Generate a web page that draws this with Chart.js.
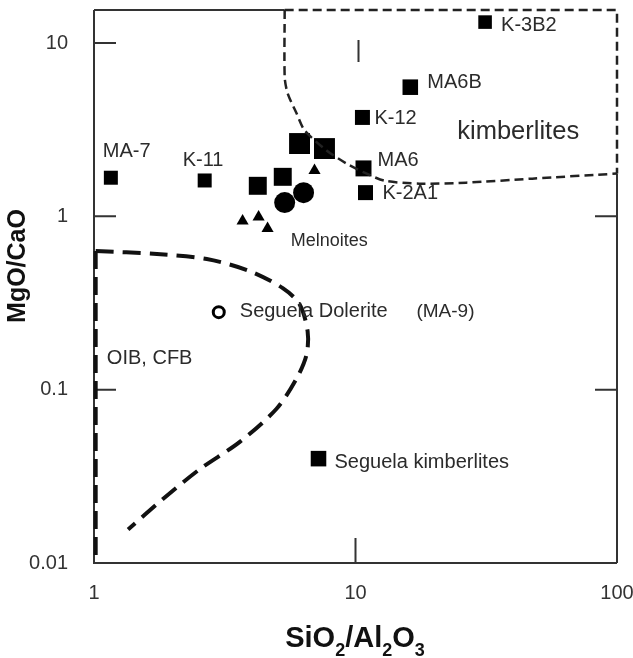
<!DOCTYPE html>
<html><head><meta charset="utf-8">
<script src="https://cdn.jsdelivr.net/npm/chart.js@4.4.0/dist/chart.umd.min.js"></script>
<style>html,body{margin:0;padding:0;background:#fff;}#wrap{width:633px;height:658px;}</style>
</head><body><div id="wrap"><canvas id="c" width="633" height="658"></canvas></div>
<script>
const FONT = "'Liberation Sans', Arial, Helvetica, sans-serif";
const INK = '#2b2b2b';

// ---- axes ----
const xTicks = [1, 10, 100];
const yTicks = [0.01, 0.1, 1, 10];
const xRange = [1, 100];
const yRange = [0.01, 15.5];
const xTitleParts = ['SiO', '2', '/Al', '2', 'O', '3'];   // odd entries are subscripts
const yTitle = 'MgO/CaO';

// ---- Seguela kimberlite samples (filled squares) ----
const kimbLabels = ['MA-7', 'K-11', '', '', '', '', 'MA6', 'K-2A1', 'K-12', 'MA6B', 'K-3B2'];
const kimbSiAl   = [1.16, 2.65, 4.23, 5.27, 6.11, 7.61, 10.73, 10.92, 10.63, 16.2, 31.3];
const kimbMgCa   = [1.67, 1.61, 1.50, 1.69, 2.63, 2.46, 1.89, 1.37, 3.72, 5.56, 13.2];

// ---- filled circles ----
const circSiAl = [5.36, 6.33];
const circMgCa = [1.20, 1.37];

// ---- melnoites (triangles) ----
const triSiAl = [3.70, 4.26, 4.61, 6.97];
const triMgCa = [0.94, 0.99, 0.85, 1.84];

// ---- Seguela dolerite MA-9 (open circle) ----
const dolSiAl = [3.0];
const dolMgCa = [0.28];

// ---- legend marker "Seguela kimberlites" ----
const legSiAl = [7.22];
const legMgCa = [0.040];

// ---- kimberlite field boundary ----
const kimbCurveSiAl = [5.36, 5.36, 5.50, 5.95, 6.39, 7.75, 9.24, 10.82, 12.9, 17.55, 26.5, 47.4, 100];
const kimbCurveMgCa = [15.5, 6.35, 5.13, 3.93, 3.13, 2.40, 2.015, 1.787, 1.605, 1.543, 1.564, 1.65, 1.764];
const kimbEdgeSiAl  = [5.36, 100, 100];
const kimbEdgeMgCa  = [15.5, 15.5, 1.764];

// ---- OIB, CFB field boundary ----
const oibCurveSiAl = [1.015, 1.74, 2.70, 3.94, 5.27, 6.11, 6.56, 6.50, 5.95, 4.99, 3.61, 2.54, 1.83, 1.35];
const oibCurveMgCa = [0.631, 0.606, 0.567, 0.483, 0.385, 0.311, 0.217, 0.1595, 0.1158, 0.0776, 0.04995, 0.0348, 0.0233, 0.0156];
const oibEdgeSiAl  = [1.015, 1.015];
const oibEdgeMgCa  = [0.631, 0.0102];

// ---- text notes ----
const noteTexts = ['kimberlites', 'Melnoites', 'Seguela Dolerite', '(MA-9)', 'OIB, CFB', 'Seguela kimberlites'];
const noteSiAl  = [24.5, 5.65, 3.61, 17.1, 1.12, 8.31];
const noteMgCa  = [3.05, 0.72, 0.283, 0.280, 0.151, 0.0382];

// ---- styles (kept apart from data) ----
const kimbRadius = [9.9, 9.9, 12.7, 12.7, 14.8, 14.8, 11.3, 10.6, 10.6, 11.0, 9.6];
const labelDx = [-8, -22, 0, 0, 0, 0, 14, 17, 12, 17, 16];
const labelDy = [-26, -20, 0, 0, 0, 0, -8, 1, 1, -5, 3];
const noteSize = [25.5, 18, 20, 19, 20, 20];

const zip = (xs, ys) => xs.map((x, i) => ({x, y: ys[i]}));
const noPad = s => { s.paddingLeft = 0; s.paddingRight = 0; s.paddingTop = 0; s.paddingBottom = 0; };

const annotPlugin = {
  id: 'annot',
  beforeDatasetsDraw(chart) {
    const {ctx, chartArea: a, scales: {x, y}} = chart;
    ctx.save();
    ctx.strokeStyle = '#333';
    ctx.lineWidth = 2;
    ctx.beginPath();
    ctx.moveTo(a.left, a.top); ctx.lineTo(a.left, a.bottom); ctx.lineTo(a.right, a.bottom);
    ctx.moveTo(a.right, y.getPixelForValue(kimbEdgeMgCa[2])); ctx.lineTo(a.right, a.bottom);
    ctx.moveTo(a.left, a.top); ctx.lineTo(x.getPixelForValue(kimbEdgeSiAl[0]), a.top);
    ctx.stroke();
    ctx.beginPath();
    [10, 1, 0.1].forEach(v => { const py = y.getPixelForValue(v); ctx.moveTo(a.left, py); ctx.lineTo(a.left + 22, py); });
    [1, 0.1].forEach(v => { const py = y.getPixelForValue(v); ctx.moveTo(a.right - 22, py); ctx.lineTo(a.right, py); });
    const px10 = x.getPixelForValue(10);
    ctx.moveTo(px10, a.bottom); ctx.lineTo(px10, a.bottom - 25);
    ctx.moveTo(px10 + 3, a.top + 30); ctx.lineTo(px10 + 3, a.top + 52);
    ctx.stroke();
    ctx.restore();
  },
  afterDatasetsDraw(chart) {
    const {ctx, scales: {x, y}} = chart;
    ctx.save();
    ctx.fillStyle = INK;
    ctx.textBaseline = 'middle';
    ctx.textAlign = 'left';
    ctx.font = `20px ${FONT}`;
    kimbLabels.forEach((t, i) => {
      if (!t) return;
      ctx.fillText(t, x.getPixelForValue(kimbSiAl[i]) + labelDx[i], y.getPixelForValue(kimbMgCa[i]) + labelDy[i]);
    });
    noteTexts.forEach((t, i) => {
      ctx.font = `${noteSize[i]}px ${FONT}`;
      ctx.fillText(t, x.getPixelForValue(noteSiAl[i]), y.getPixelForValue(noteMgCa[i]));
    });
    ctx.fillStyle = '#111';
    ctx.save();
    ctx.translate(18, 266);
    ctx.rotate(-Math.PI / 2);
    ctx.textAlign = 'center';
    ctx.font = `bold 25px ${FONT}`;
    ctx.fillText(yTitle, 0, 0);
    ctx.restore();
    const big = `bold 29px ${FONT}`, small = `bold 18px ${FONT}`;
    let total = 0;
    const w = xTitleParts.map((p, i) => { ctx.font = i % 2 ? small : big; const m = ctx.measureText(p).width; total += m; return m; });
    let cx = 355 - total / 2;
    ctx.textBaseline = 'alphabetic';
    xTitleParts.forEach((p, i) => {
      ctx.font = i % 2 ? small : big;
      ctx.fillText(p, cx, i % 2 ? 656 : 647);
      cx += w[i];
    });
    ctx.restore();
  }
};

new Chart(document.getElementById('c'), {
  type: 'scatter',
  data: {
    datasets: [
      {label: 'OIB edge', data: zip(oibEdgeSiAl, oibEdgeMgCa), showLine: true, borderColor: '#111', borderWidth: 4, borderDash: [18, 8], pointRadius: 0, clip: false},
      {label: 'OIB, CFB', data: zip(oibCurveSiAl, oibCurveMgCa), showLine: true, borderColor: '#111', borderWidth: 4, borderDash: [18, 9], pointRadius: 0, tension: 0.3, clip: false},
      {label: 'kimberlite edge', data: zip(kimbEdgeSiAl, kimbEdgeMgCa), showLine: true, borderColor: '#222', borderWidth: 2.5, borderDash: [9, 5], pointRadius: 0, clip: false},
      {label: 'kimberlites field', data: zip(kimbCurveSiAl, kimbCurveMgCa), showLine: true, borderColor: '#222', borderWidth: 2.5, borderDash: [9, 5], pointRadius: 0, tension: 0.25, clip: false},
      {label: 'Melnoites', data: zip(triSiAl, triMgCa), pointStyle: 'triangle', pointRadius: 7, backgroundColor: '#000', borderWidth: 0},
      {label: 'circles', data: zip(circSiAl, circMgCa), pointStyle: 'circle', pointRadius: 10.5, backgroundColor: '#000', borderWidth: 0},
      {label: 'Seguela kimberlites', data: zip(kimbSiAl, kimbMgCa), pointStyle: 'rect', pointRadius: kimbRadius, backgroundColor: '#000', borderWidth: 0},
      {label: 'Seguela Dolerite (MA-9)', data: zip(dolSiAl, dolMgCa), pointStyle: 'circle', pointRadius: 5.5, backgroundColor: '#fff', borderColor: '#000', borderWidth: 3},
      {label: 'legend marker', data: zip(legSiAl, legMgCa), pointStyle: 'rect', pointRadius: 11, backgroundColor: '#000', borderWidth: 0}
    ]
  },
  options: {
    responsive: false,
    devicePixelRatio: 1,
    animation: false,
    layout: {autoPadding: false, padding: {left: 0, right: 16, top: 10, bottom: 0}},
    plugins: {legend: {display: false}, tooltip: {enabled: false}},
    scales: {
      x: {
        type: 'logarithmic', min: xRange[0], max: xRange[1],
        afterBuildTicks: s => { s.ticks = xTicks.map(v => ({value: v})); },
        afterFit: s => { s.height = 95; noPad(s); },
        grid: {display: false, drawTicks: false},
        border: {display: false},
        ticks: {callback: v => String(v), autoSkip: false, maxRotation: 0, padding: 18, color: '#333', font: {size: 20, family: FONT}}
      },
      y: {
        type: 'logarithmic', min: yRange[0], max: yRange[1],
        afterBuildTicks: s => { s.ticks = yTicks.map(v => ({value: v})); },
        afterFit: s => { s.width = 94; noPad(s); },
        grid: {display: false, drawTicks: false},
        border: {display: false},
        ticks: {callback: v => String(v), autoSkip: false, padding: 26, color: '#333', font: {size: 20, family: FONT}}
      }
    }
  },
  plugins: [annotPlugin]
});
</script></body></html>
